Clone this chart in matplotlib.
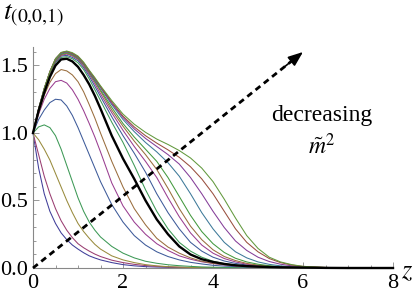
import colorsys
import matplotlib
matplotlib.use("Agg")
import matplotlib.pyplot as plt
from matplotlib.ticker import MultipleLocator

plt.rcParams['font.family'] = ['Liberation Serif', 'DejaVu Serif']
plt.rcParams['mathtext.fontset'] = 'stix'

# ---------------- data ----------------
z = [0, 0.125, 0.25, 0.375, 0.5, 0.625, 0.75, 0.875, 1.0, 1.125, 1.25, 1.375, 1.5,
     1.75, 2.0, 2.25, 2.5, 2.75, 3.0, 3.25, 3.5, 3.75, 4.0, 4.25, 4.5, 4.75, 5.0,
     5.25, 5.5, 5.75, 6.0, 6.5, 7.0, 8.0]

# curves with large m^2 (left of the black curve)
inner_curves = [
    [1.0, 0.74, 0.55, 0.42, 0.33, 0.26, 0.21, 0.17, 0.14, 0.113, 0.09, 0.074, 0.06,
     0.04, 0.025, 0.016, 0.01, 0.007, 0.005, 0.003, 0.002, 0.001, 0.001, 0, 0, 0, 0,
     0, 0, 0, 0, 0, 0, 0],
    [1.0, 0.84, 0.68, 0.55, 0.44, 0.35, 0.28, 0.225, 0.18, 0.15, 0.125, 0.103, 0.085,
     0.058, 0.04, 0.027, 0.018, 0.012, 0.008, 0.005, 0.003, 0.002, 0.001, 0.001, 0, 0, 0,
     0, 0, 0, 0, 0, 0, 0],
    [1.0, 0.95, 0.88, 0.80, 0.70, 0.60, 0.50, 0.41, 0.33, 0.27, 0.22, 0.175, 0.14,
     0.09, 0.06, 0.04, 0.025, 0.016, 0.01, 0.007, 0.004, 0.003, 0.002, 0.001, 0.001, 0, 0,
     0, 0, 0, 0, 0, 0, 0],
    [1.0, 1.045, 1.06, 1.04, 0.98, 0.88, 0.76, 0.64, 0.52, 0.42, 0.34, 0.28, 0.23,
     0.16, 0.11, 0.075, 0.05, 0.035, 0.024, 0.017, 0.012, 0.008, 0.006, 0.004, 0.003, 0.002, 0.001,
     0.001, 0, 0, 0, 0, 0, 0],
    [1.0, 1.10, 1.17, 1.225, 1.25, 1.245, 1.20, 1.13, 1.04, 0.94, 0.84, 0.74, 0.64,
     0.47, 0.34, 0.24, 0.17, 0.12, 0.085, 0.06, 0.042, 0.03, 0.02, 0.014, 0.01, 0.007, 0.005,
     0.003, 0.002, 0.001, 0.001, 0, 0, 0],
    [1.0, 1.14, 1.25, 1.33, 1.38, 1.39, 1.37, 1.32, 1.25, 1.165, 1.07, 0.97, 0.86,
     0.63, 0.46, 0.34, 0.25, 0.18, 0.13, 0.09, 0.065, 0.046, 0.033, 0.023, 0.016, 0.011, 0.008,
     0.005, 0.003, 0.002, 0.001, 0, 0, 0],
    [1.0, 1.15, 1.28, 1.375, 1.44, 1.47, 1.46, 1.43, 1.38, 1.305, 1.21, 1.11, 1.00,
     0.79, 0.60, 0.44, 0.32, 0.22, 0.155, 0.11, 0.075, 0.05, 0.035, 0.025, 0.017, 0.012, 0.008,
     0.005, 0.003, 0.002, 0.001, 0, 0, 0],
]

# highlighted curve
black_curve = [1.0, 1.165, 1.30, 1.415, 1.50, 1.545, 1.55, 1.53, 1.49, 1.43, 1.36, 1.275, 1.18,
               0.98, 0.81, 0.66, 0.50, 0.36, 0.25, 0.16, 0.10, 0.065, 0.045, 0.03, 0.02, 0.014, 0.01,
               0.007, 0.005, 0.004, 0.003, 0.001, 0, 0]

# curves with small m^2 (right of the black curve)
outer_curves = [
    [1.0, 1.17, 1.31, 1.43, 1.52, 1.56, 1.565, 1.55, 1.52, 1.47, 1.40, 1.32, 1.24,
     1.08, 0.93, 0.76, 0.58, 0.42, 0.29, 0.19, 0.125, 0.08, 0.05, 0.033, 0.022, 0.014, 0.009,
     0.006, 0.004, 0.002, 0.001, 0.001, 0, 0],
    [1.0, 1.17, 1.31, 1.435, 1.525, 1.57, 1.575, 1.56, 1.535, 1.485, 1.42, 1.345, 1.27,
     1.12, 0.98, 0.85, 0.71, 0.55, 0.41, 0.29, 0.19, 0.125, 0.08, 0.052, 0.034, 0.022, 0.014,
     0.009, 0.006, 0.004, 0.002, 0.001, 0, 0],
    [1.0, 1.175, 1.32, 1.44, 1.53, 1.575, 1.585, 1.57, 1.545, 1.495, 1.435, 1.365, 1.29,
     1.15, 1.02, 0.90, 0.79, 0.67, 0.52, 0.38, 0.26, 0.17, 0.11, 0.07, 0.045, 0.028, 0.018,
     0.011, 0.007, 0.004, 0.003, 0.001, 0, 0],
    [1.0, 1.175, 1.32, 1.44, 1.535, 1.58, 1.59, 1.575, 1.55, 1.505, 1.445, 1.38, 1.31,
     1.17, 1.05, 0.94, 0.84, 0.73, 0.59, 0.44, 0.31, 0.21, 0.135, 0.085, 0.055, 0.034, 0.021,
     0.013, 0.008, 0.005, 0.003, 0.001, 0, 0],
    [1.0, 1.175, 1.32, 1.445, 1.54, 1.585, 1.595, 1.58, 1.555, 1.51, 1.45, 1.385, 1.32,
     1.19, 1.07, 0.97, 0.88, 0.79, 0.67, 0.53, 0.39, 0.27, 0.18, 0.115, 0.072, 0.045, 0.028,
     0.017, 0.01, 0.006, 0.004, 0.001, 0, 0],
    [1.0, 1.18, 1.33, 1.45, 1.545, 1.59, 1.60, 1.585, 1.56, 1.515, 1.455, 1.395, 1.335,
     1.21, 1.10, 1.01, 0.93, 0.86, 0.78, 0.68, 0.55, 0.41, 0.29, 0.19, 0.12, 0.075, 0.045,
     0.027, 0.016, 0.009, 0.005, 0.002, 0.001, 0],
    [1.0, 1.18, 1.33, 1.455, 1.55, 1.593, 1.603, 1.588, 1.563, 1.517, 1.458, 1.40, 1.34,
     1.22, 1.115, 1.03, 0.96, 0.90, 0.84, 0.77, 0.67, 0.55, 0.42, 0.30, 0.20, 0.13, 0.08,
     0.048, 0.028, 0.016, 0.009, 0.003, 0.001, 0],
    [1.0, 1.18, 1.33, 1.455, 1.55, 1.595, 1.605, 1.59, 1.565, 1.52, 1.46, 1.405, 1.345,
     1.23, 1.125, 1.045, 0.98, 0.925, 0.875, 0.82, 0.75, 0.66, 0.55, 0.42, 0.29, 0.19, 0.12,
     0.07, 0.04, 0.022, 0.012, 0.004, 0.001, 0],
    [1.0, 1.18, 1.33, 1.455, 1.55, 1.597, 1.607, 1.595, 1.57, 1.525, 1.465, 1.41, 1.35,
     1.24, 1.14, 1.065, 1.005, 0.955, 0.915, 0.87, 0.815, 0.74, 0.64, 0.51, 0.37, 0.24, 0.145,
     0.08, 0.045, 0.025, 0.012, 0.004, 0.001, 0],
]

inner_hues = [0.67, 0.906, 0.142, 0.378, 0.614, 0.850, 0.086]
outer_hues = [0.378, 0.614, 0.850, 0.086, 0.322, 0.558, 0.795, 0.031, 0.267]

x_ticks = [0, 2, 4, 6, 8]
y_ticks = [0.0, 0.5, 1.0, 1.5]
y_tick_labels = ["0.0", "0.5", "1.0", "1.5"]

arrow_start = (0.0, 0.0)
arrow_end = (6.0, 1.60)
label_text = "decreasing"
label_pos = (6.42, 1.13)
label2_text = r"$\tilde{m}^2$"
label2_pos = (6.42, 0.90)

# ---------------- plot ----------------
fig = plt.figure(figsize=(4.15, 2.98), dpi=100)
ax = fig.add_axes([33 / 415, 1 - 268 / 298, 360 / 415, 221 / 298])

def col(h):
    return colorsys.hsv_to_rgb(h, 0.6, 0.6)

for vals, h in zip(inner_curves, inner_hues):
    ax.plot(z, vals, color=col(h), lw=0.75, clip_on=False)
for vals, h in zip(outer_curves, outer_hues):
    ax.plot(z, vals, color=col(h), lw=0.75, clip_on=False)
ax.plot(z, black_curve, color='black', lw=1.7, clip_on=False, zorder=5)

# dashed arrow
fx = 0.965
tail_end = (arrow_start[0] + fx * (arrow_end[0] - arrow_start[0]),
            arrow_start[1] + fx * (arrow_end[1] - arrow_start[1]))
ax.plot([arrow_start[0], tail_end[0]], [arrow_start[1], tail_end[1]],
        color='black', lw=2.0, linestyle=(0, (2.2, 1.6)), clip_on=False, zorder=6)
hb = 0.93
head_base = (arrow_start[0] + hb * (arrow_end[0] - arrow_start[0]),
             arrow_start[1] + hb * (arrow_end[1] - arrow_start[1]))
ax.annotate('', xy=arrow_end, xytext=head_base,
            arrowprops=dict(arrowstyle='-|>,head_length=0.9,head_width=0.35',
                            color='black', lw=1.2, shrinkA=0, shrinkB=0),
            annotation_clip=False, zorder=7)

ax.text(*label_pos, label_text, ha='center', va='center', fontsize=17)
ax.text(*label2_pos, label2_text, ha='center', va='center', fontsize=17)

ax.set_xlim(0, 8)
ax.set_ylim(0, 1.637)
for s in ['top', 'right']:
    ax.spines[s].set_visible(False)
for s in ['left', 'bottom']:
    ax.spines[s].set_color('#888888')
    ax.spines[s].set_linewidth(0.8)

ax.set_xticks(x_ticks)
ax.set_yticks(y_ticks)
ax.set_yticklabels(y_tick_labels)
ax.xaxis.set_minor_locator(MultipleLocator(0.5))
ax.yaxis.set_minor_locator(MultipleLocator(0.1))
ax.tick_params(which='both', direction='in', color='#888888', width=0.6, labelsize=16)
ax.tick_params(which='major', length=4.5)
ax.tick_params(which='minor', length=2.5)
ax.tick_params(axis='x', pad=4)
ax.tick_params(axis='y', pad=3.5)

fig.text(3 / 415, 1 - 3 / 298, r"$t_{\mathrm{(0{,}0{,}1)}}$", ha='left', va='top', fontsize=20)
fig.text(407 / 415, 1 - 272 / 298, r"$z$", ha='center', va='center', fontsize=19)

fig.savefig("out.png", dpi=100)
